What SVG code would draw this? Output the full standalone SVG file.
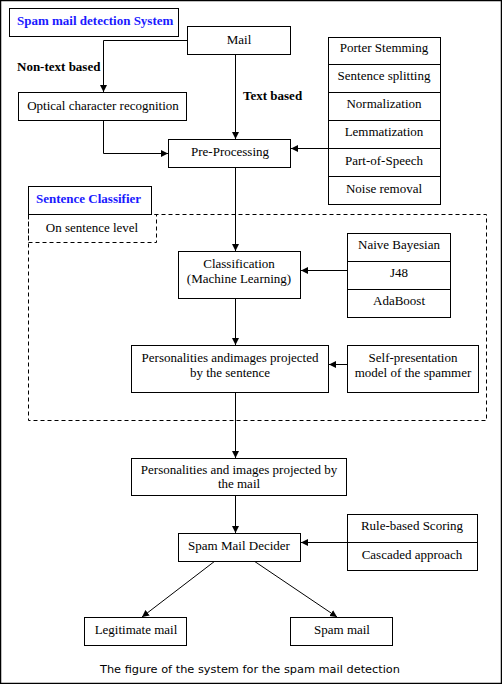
<svg xmlns="http://www.w3.org/2000/svg" width="502" height="684" viewBox="0 0 502 684">
<defs>
<marker id="ah" markerWidth="8" markerHeight="8" refX="7" refY="4" orient="auto" markerUnits="userSpaceOnUse">
<path d="M0,0.5 L7,4 L0,7.5 Z" fill="#000"/>
</marker>
</defs>
<style>
.b{fill:#fff;stroke:#000;stroke-width:1}
.d{fill:none;stroke:#000;stroke-width:1;stroke-dasharray:4,3}
.t{font-family:"Liberation Serif","Times New Roman",serif;font-size:13px;fill:#000;text-anchor:middle}
.bl{font-family:"Liberation Serif","Times New Roman",serif;font-size:13px;font-weight:bold;fill:#000}
.h{font-family:"Liberation Serif","Times New Roman",serif;font-size:13px;font-weight:bold;fill:#1a1aff}
.c{fill:none;stroke:#000;stroke-width:1}
.cap{font-family:"DejaVu Sans",Verdana,sans-serif;font-size:11px;fill:#000;text-anchor:middle}
</style>
<rect x="0.5" y="0.5" width="501" height="683" fill="#fff" stroke="#000" stroke-width="1.5"/>
<g id="title"><rect class="b" x="9.5" y="8.5" width="169" height="28"/><text class="h" x="17" y="25">Spam mail detection System</text></g>
<g id="sentence-classifier-region">
<rect class="d" x="28.5" y="214.5" width="458" height="206"/>
<rect class="b" x="28.5" y="186.5" width="123" height="28"/><text class="h" x="36" y="203">Sentence Classifier</text>
<rect class="d" x="28.5" y="214.5" width="128" height="28"/><text class="t" x="92" y="232">On sentence level</text>
</g>
<g id="connectors">
<polyline class="c" points="187,40.5 103.5,40.5 103.5,92" marker-end="url(#ah)"/>
<line class="c" x1="235.5" y1="54" x2="235.5" y2="139" marker-end="url(#ah)"/>
<polyline class="c" points="103.5,120 103.5,153.5 168,153.5" marker-end="url(#ah)"/>
<line class="c" x1="328" y1="148.5" x2="291" y2="148.5" marker-end="url(#ah)"/>
<line class="c" x1="235.5" y1="167" x2="235.5" y2="251" marker-end="url(#ah)"/>
<line class="c" x1="347" y1="270.5" x2="301" y2="270.5" marker-end="url(#ah)"/>
<line class="c" x1="235.5" y1="298" x2="235.5" y2="345" marker-end="url(#ah)"/>
<line class="c" x1="347" y1="364.5" x2="329" y2="364.5" marker-end="url(#ah)"/>
<line class="c" x1="235.5" y1="392" x2="235.5" y2="458" marker-end="url(#ah)"/>
<line class="c" x1="235.5" y1="495" x2="235.5" y2="533" marker-end="url(#ah)"/>
<line class="c" x1="347" y1="542.5" x2="301" y2="542.5" marker-end="url(#ah)"/>
<line class="c" x1="215" y1="561" x2="142" y2="617" marker-end="url(#ah)"/>
<line class="c" x1="254" y1="561" x2="337" y2="617" marker-end="url(#ah)"/>
</g>
<text class="bl" x="17" y="71">Non-text based</text>
<text class="bl" x="243" y="100">Text based</text>
<g id="mail"><rect class="b" x="187.5" y="26.5" width="103" height="28"/><text class="t" x="239" y="44">Mail</text></g>
<g id="ocr"><rect class="b" x="18.5" y="92.5" width="168" height="28"/><text class="t" x="103" y="110">Optical character recognition</text></g>
<g id="preprocessing"><rect class="b" x="168.5" y="139.5" width="122" height="28"/><text class="t" x="230" y="156">Pre-Processing</text></g>
<g id="preprocessing-methods">
<rect class="b" x="328.5" y="37.5" width="112" height="167"/>
<path class="c" d="M328.5,64.5H440.5M328.5,92.5H440.5M328.5,120.5H440.5M328.5,148.5H440.5M328.5,176.5H440.5"/>
<text class="t" x="384" y="52">Porter Stemming</text>
<text class="t" x="384" y="80">Sentence splitting</text>
<text class="t" x="384" y="108">Normalization</text>
<text class="t" x="384" y="136">Lemmatization</text>
<text class="t" x="384" y="165">Part-of-Speech</text>
<text class="t" x="384" y="193">Noise removal</text>
</g>
<g id="classification"><rect class="b" x="178.5" y="251.5" width="122" height="47"/><text class="t" x="239" y="268">Classification</text><text class="t" x="239" y="283">(Machine Learning)</text></g>
<g id="classifiers">
<rect class="b" x="347.5" y="233.5" width="103" height="84"/>
<path class="c" d="M347.5,261.5H450.5M347.5,289.5H450.5"/>
<text class="t" x="399" y="249">Naive Bayesian</text>
<text class="t" x="399" y="277">J48</text>
<text class="t" x="399" y="305">AdaBoost</text>
</g>
<g id="personalities-sentence"><rect class="b" x="131.5" y="345.5" width="197" height="47"/><text class="t" x="230" y="362">Personalities andimages projected</text><text class="t" x="230" y="377">by the sentence</text></g>
<g id="self-presentation"><rect class="b" x="347.5" y="345.5" width="131" height="47"/><text class="t" x="413" y="362">Self-presentation</text><text class="t" x="413" y="377">model of the spammer</text></g>
<g id="personalities-mail"><rect class="b" x="131.5" y="458.5" width="215" height="37"/><text class="t" x="239" y="474">Personalities and images projected by</text><text class="t" x="239" y="488">the mail</text></g>
<g id="decider"><rect class="b" x="178.5" y="533.5" width="122" height="28"/><text class="t" x="239" y="550">Spam Mail Decider</text></g>
<g id="decider-methods">
<rect class="b" x="347.5" y="514.5" width="130" height="56"/>
<path class="c" d="M347.5,542.5H477.5"/>
<text class="t" x="412" y="530">Rule-based Scoring</text>
<text class="t" x="412" y="559">Cascaded approach</text>
</g>
<g id="legitimate"><rect class="b" x="84.5" y="617.5" width="102" height="28"/><text class="t" x="136" y="634">Legitimate mail</text></g>
<g id="spam"><rect class="b" x="290.5" y="617.5" width="102" height="28"/><text class="t" x="342" y="634">Spam mail</text></g>
<text class="cap" x="250" y="673" textLength="300" lengthAdjust="spacingAndGlyphs">The figure of the system for the spam mail detection</text>
</svg>
